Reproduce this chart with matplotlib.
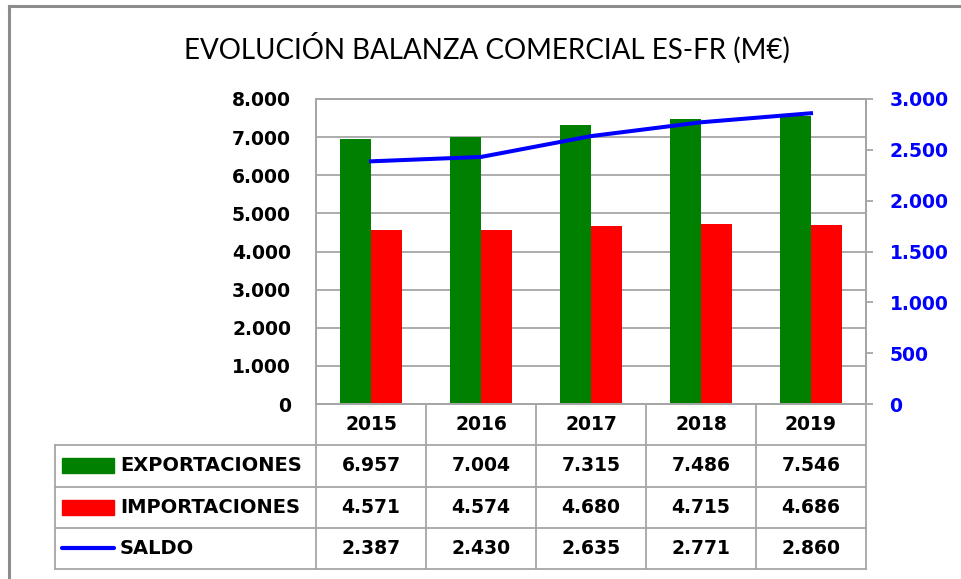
import matplotlib.pyplot as plt
import numpy as np
from matplotlib.patches import Rectangle
from matplotlib.lines import Line2D

# datos
anios = ['2015', '2016', '2017', '2018', '2019']
exportaciones = [6957, 7004, 7315, 7486, 7546]
importaciones = [4571, 4574, 4680, 4715, 4686]
saldo = [2387, 2430, 2635, 2771, 2860]
series = ['EXPORTACIONES', 'IMPORTACIONES', 'SALDO']

verde = '#008000'
rojo = '#FF0000'
azul = '#0000FF'
gris = '#A6A6A6'

def fmt(v):
    return f'{v:,.0f}'.replace(',', '.')

W, H = 961, 579
fig = plt.figure(figsize=(W / 100, H / 100), dpi=100)

# marco exterior
fig.add_artist(Line2D([9 / W, 9 / W], [0, 1 - 6 / H], color='#8C8C8C', lw=2.2))
fig.add_artist(Line2D([9 / W, 1], [1 - 6 / H, 1 - 6 / H], color='#8C8C8C', lw=2.2))

fig.text(487 / W, 1 - 48 / H, 'EVOLUCIÓN BALANZA COMERCIAL ES-FR (M€)',
         ha='center', va='center', fontsize=20, family='Lato', color='black')

# grafico principal
x0, x1, y0, y1 = 316, 866, 404, 99
ax = fig.add_axes([x0 / W, 1 - y0 / H, (x1 - x0) / W, (y0 - y1) / H])
x = np.arange(len(anios))
bw = 0.285
ax.bar(x - bw, exportaciones, bw, align='edge', color=verde, zorder=2)
ax.bar(x, importaciones, bw, align='edge', color=rojo, zorder=2)
ax.set_xlim(-0.5, len(anios) - 0.5)
ax.set_ylim(0, 8000)
ax.set_yticks(np.arange(0, 8001, 1000))
ax.set_yticklabels([fmt(v) for v in np.arange(0, 8001, 1000)],
                   fontsize=13.5, fontweight='bold', family='DejaVu Sans')
ax.tick_params(axis='y', length=0, pad=18)
ax.set_xticks([])
ax.grid(axis='y', color=gris, lw=1.3, zorder=0)
for s in ax.spines.values():
    s.set_color(gris)
    s.set_linewidth(1.3)

ax2 = ax.twinx()
ax2.plot(x, saldo, color=azul, lw=2.9, zorder=3)
ax2.set_ylim(0, 3000)
ax2.set_yticks(np.arange(0, 3001, 500))
ax2.set_yticklabels([fmt(v) for v in np.arange(0, 3001, 500)],
                    fontsize=13.5, fontweight='bold', color=azul, family='DejaVu Sans')
ax2.tick_params(axis='y', length=5, width=1.3, color=gris, pad=12)
for s in ax2.spines.values():
    s.set_color(gris)
    s.set_linewidth(1.3)

# tabla de datos
tl = 55
xl = -0.5 - (x0 - tl) / 110
axt = fig.add_axes([tl / W, 1 - 569 / H, (x1 - tl) / W, (569 - y0) / H])
axt.set_xlim(xl, len(anios) - 0.5)
axt.set_ylim(4, 0)
axt.axis('off')

kw = dict(color=gris, lw=1.3, clip_on=False)
for r in range(1, 5):
    axt.plot([xl, len(anios) - 0.5], [r, r], **kw)
for c in range(len(anios) + 1):
    axt.plot([c - 0.5, c - 0.5], [0, 4], **kw)
axt.plot([xl, xl], [1, 4], **kw)

tkw = dict(ha='center', va='center', fontsize=13.5, fontweight='bold', family='DejaVu Sans')
for i, a in enumerate(anios):
    axt.text(i, 0.5, a, **tkw)
for r, vals in enumerate([exportaciones, importaciones, saldo]):
    for i, v in enumerate(vals):
        axt.text(i, r + 1.5, fmt(v), **tkw)

sw0 = xl + 7 / 110
sw1 = xl + 59 / 110
for r, (nombre, col) in enumerate(zip(series, [verde, rojo, azul])):
    yc = r + 1.5
    if nombre == 'SALDO':
        axt.plot([sw0, sw1], [yc, yc], color=col, lw=3, solid_capstyle='round', clip_on=False)
    else:
        axt.add_patch(Rectangle((sw0, yc - 7.5 / 41), sw1 - sw0, 15 / 41, color=col, clip_on=False))
    axt.text(xl + 65 / 110, yc, nombre, ha='left', va='center', fontsize=14,
             fontweight='bold', family='DejaVu Sans')

fig.savefig('out.png', dpi=100)
